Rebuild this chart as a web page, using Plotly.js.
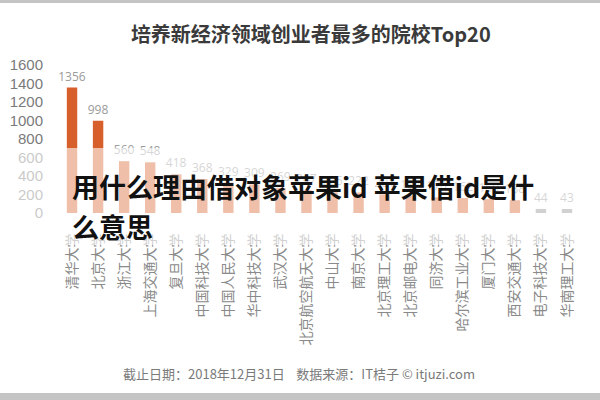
<!DOCTYPE html>
<html>
<head>
<meta charset="utf-8">
<script src="https://cdn.plot.ly/plotly-3.0.1.min.js"></script>
<style>html,body{margin:0;padding:0;background:#fff;}#chart{width:600px;height:400px;}</style>
</head>
<body>
<div id="chart"></div>
<script>
// ---- data ----
const schools = ["清华大学","北京大学","浙江大学","上海交通大学","复旦大学","中国科技大学","中国人民大学","华中科技大学","武汉大学","北京航空航天大学","中山大学","南京大学","北京理工大学","北京邮电大学","同济大学","哈尔滨工业大学","厦门大学","西安交通大学","电子科技大学","华南理工大学"];
const founders = [1356, 998, 560, 548, 418, 368, 329, 309, 269, 247, 225, 222, 201, 187, 170, 162, 150, 138, 44, 43];
const yTicks = [0, 200, 400, 600, 800, 1000, 1200, 1400, 1600];
const titleText = "培养新经济领域创业者最多的院校Top20";
const footerText = "截止日期：2018年12月31日&nbsp;&nbsp;&nbsp;&nbsp;数据来源：IT桔子 © itjuzi.com";
const overlayLine1 = "用什么理由借对象苹果id 苹果借id是什";
const overlayLine2 = "么意思";

// ---- layout geometry ----
const W = 600, H = 400;
const M = {l: 59, r: 20, t: 65, b: 187};
const pw = W - M.l - M.r, ph = H - M.t - M.b;
const px = x => (x - M.l) / pw;
const py = y => (H - M.b - y) / ph;

const barColors = founders.map((v, i) => i >= founders.length - 2 ? "#8c8c8c" : "#d75f2b");
const CJK = "'Noto Sans CJK SC', 'Noto Sans', sans-serif";

const trace = {
  type: "bar",
  x: schools,
  y: founders,
  text: founders.map(String),
  textposition: "outside",
  constraintext: "none",
  textangle: 0,
  textfont: {family: "'Open Sans', 'Noto Sans', sans-serif", size: 12, color: "#9a9a9a"},
  marker: {color: barColors},
  cliponaxis: false,
  hoverinfo: "x+y"
};

const layout = {
  width: W, height: H,
  margin: M,
  paper_bgcolor: "#ffffff",
  plot_bgcolor: "#ffffff",
  showlegend: false,
  bargap: 0.6,
  font: {family: CJK},
  uniformtext: {mode: false},
  title: {
    text: "<b>" + titleText + "</b>",
    font: {family: CJK, size: 20, color: "#3a3a3a"},
    x: 0.518, xanchor: "center",
    y: 1 - 35 / H, yanchor: "middle"
  },
  xaxis: {
    type: "category",
    tickangle: -90,
    ticks: "outside", ticklen: 14, tickcolor: "rgba(0,0,0,0)",
    tickfont: {family: CJK, size: 14, color: "#8a8a8a"},
    showline: false, showgrid: false, zeroline: false,
    fixedrange: true
  },
  yaxis: {
    range: [0, 1600],
    tickvals: yTicks,
    ticktext: yTicks.map(String),
    ticks: "outside", ticklen: 12, tickcolor: "rgba(0,0,0,0)",
    tickfont: {family: "'Liberation Sans Narrow', 'Liberation Sans', sans-serif", size: 15, color: "#7a7a7a"},
    showline: false, showgrid: false, zeroline: false,
    fixedrange: true
  },
  shapes: [
    {type: "rect", xref: "paper", yref: "paper", x0: px(0), x1: px(W), y0: py(245), y1: py(148),
     fillcolor: "rgba(255,255,255,0.6)", line: {width: 0}, layer: "above"},
    {type: "rect", xref: "paper", yref: "paper", x0: px(0), x1: px(W), y0: py(3), y1: py(0),
     fillcolor: "#c4c4c4", line: {width: 0}, layer: "above"},
    {type: "rect", xref: "paper", yref: "paper", x0: px(0), x1: px(W), y0: py(H), y1: py(393),
     fillcolor: "#c4c4c4", line: {width: 0}, layer: "above"}
  ],
  annotations: [
    {xref: "paper", yref: "paper", x: px(70), y: py(186), xanchor: "left", yanchor: "middle",
     text: "<b>" + overlayLine1 + "</b>", showarrow: false,
     font: {family: CJK, size: 27, color: "#111111"}},
    {xref: "paper", yref: "paper", x: px(70), y: py(226), xanchor: "left", yanchor: "middle",
     text: "<b>" + overlayLine2 + "</b>", showarrow: false,
     font: {family: CJK, size: 27, color: "#111111"}},
    {xref: "paper", yref: "paper", x: px(299), y: py(373), xanchor: "center", yanchor: "middle",
     text: footerText, showarrow: false,
     font: {family: CJK, size: 13, color: "#7a7a7a"}}
  ]
};

Plotly.newPlot("chart", [trace], layout, {displayModeBar: false, staticPlot: true});
</script>
</body>
</html>
